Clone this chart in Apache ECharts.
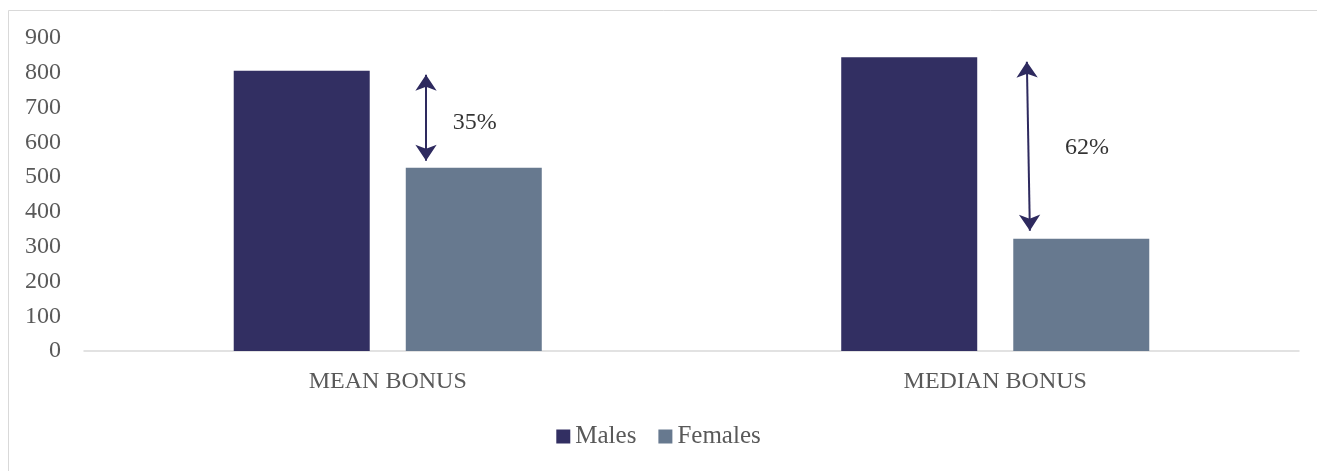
<!DOCTYPE html>
<html>
<head>
<meta charset="utf-8">
<script src="https://cdn.jsdelivr.net/npm/echarts@6/dist/echarts.min.js"></script>
<style>
html,body{margin:0;padding:0;background:#fff;}
#chart{width:1317px;height:471px;}
</style>
</head>
<body>
<div id="chart"></div>
<script>
// ---- data ----
var categories = ['MEAN BONUS', 'MEDIAN BONUS'];
var males = [806, 845];
var females = [527, 323];
var yTicks = { min: 0, max: 900, interval: 100 };
// gap annotations (x in category units 0..2 across the axis, y in values)
var arrowX = [[0.563, 0.563], [1.552, 1.557]];
var arrowTop = [794, 832];
var arrowBottom = [547, 346];
var gapLabels = ['35%', '62%'];
var gapLabelX = [0.643, 1.651];
var gapLabelY = [657, 584];

var FONT = 'Liberation Serif';
var chart = echarts.init(document.getElementById('chart'));

var arrowData = arrowTop.map(function (t, i) {
  return { coords: [[arrowX[i][0], t], [arrowX[i][1], arrowBottom[i]]] };
});
var labelData = gapLabels.map(function (s, i) {
  return { name: s, value: [gapLabelX[i], gapLabelY[i]] };
});

chart.setOption({
  animation: false,
  backgroundColor: '#fff',
  textStyle: { fontFamily: FONT },
  graphic: [{
    type: 'rect',
    shape: { x: 8.5, y: 10.5, width: 1400, height: 600 },
    style: { fill: 'none', stroke: '#d9d9d9', lineWidth: 1 },
    silent: true, z: -1
  }],
  grid: { left: 84, right: 18, top: 38, bottom: 120 },
  legend: {
    data: ['Males', 'Females'],
    bottom: 17,
    left: 'center',
    icon: 'rect',
    itemWidth: 14, itemHeight: 14,
    itemGap: 22,
    textStyle: { fontFamily: FONT, fontSize: 25, color: '#595959' }
  },
  xAxis: [{
    type: 'category',
    data: categories,
    axisLine: { lineStyle: { color: '#d9d9d9', width: 1.5 } },
    axisTick: { show: false },
    axisLabel: { fontFamily: FONT, fontSize: 24, color: '#595959', margin: 19 }
  }, {
    type: 'value', min: 0, max: 2, show: false
  }],
  yAxis: [{
    type: 'value',
    min: yTicks.min, max: yTicks.max, interval: yTicks.interval,
    axisLine: { show: false },
    axisTick: { show: false },
    splitLine: { show: false },
    axisLabel: { fontFamily: FONT, fontSize: 24, color: '#595959', margin: 23 }
  }],
  series: [{
    name: 'Males', type: 'bar', data: males,
    barWidth: 136, barGap: '26.5%',
    itemStyle: { color: '#322f62' }
  }, {
    name: 'Females', type: 'bar', data: females,
    barWidth: 136,
    itemStyle: { color: '#67798f' }
  }, {
    name: 'gap', type: 'lines', coordinateSystem: 'cartesian2d',
    xAxisIndex: 1, yAxisIndex: 0,
    symbol: ['arrow', 'arrow'], symbolSize: 16,
    lineStyle: { color: '#2e2a5f', width: 2, opacity: 1, curveness: 0 },
    data: arrowData, silent: true, z: 5
  }, {
    name: 'gapLabel', type: 'scatter',
    xAxisIndex: 1, yAxisIndex: 0,
    symbolSize: 0,
    label: { show: true, position: 'inside', formatter: '{b}', fontFamily: FONT, fontSize: 24, color: '#000' },
    data: labelData, silent: true
  }]
});
</script>
</body>
</html>
